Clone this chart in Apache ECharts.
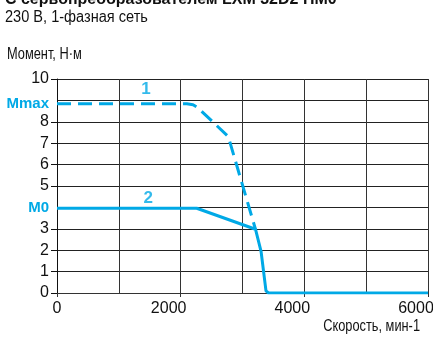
<!DOCTYPE html>
<html>
<head>
<meta charset="utf-8">
<script src="https://cdn.jsdelivr.net/npm/echarts@6/dist/echarts.min.js"></script>
<style>
html,body{margin:0;padding:0;background:#fff;}
#c{width:433px;height:338px;}
</style>
</head>
<body>
<div id="c"></div>
<script>
// ---- data ----
const titleText = 'С сервопреобразователем LXM 32D2 HM0';
const subtitleText = '230 В, 1-фазная сеть';
const yAxisTitle = 'Момент, Н·м';
const xAxisTitle = 'Скорость, мин-1';

const Mmax = 8.84;
const M0 = 3.96;

// curve 1 (peak torque, dashed)
const curve1Speed  = [0, 2100, 2200, 2270, 2770, 3210];
const curve1Torque = [Mmax, Mmax, 8.8, 8.68, 7.31, 2.98];

// curve 2 (continuous torque, solid)
const curve2Speed  = [0, 2260, 3210, 3300, 3380, 3420, 6000];
const curve2Torque = [M0, M0, 2.98, 1.95, 0.1, 0, 0];

const curveNames = ['1', '2'];
const curveLabelSpeed = [1440, 1475];
const curveLabelTorque = [9.5, 4.42];

const xMin = 0, xMax = 6000, xLabelStep = 2000, xGridStep = 1000;
const yMin = 0, yMax = 10, yGridStep = 1;
const yTickValues = [0, 1, 2, 3, 5, 6, 7, 8, 10];
const yLabelValues = [0, 1, 2, 3, M0, 5, 6, 7, 8, Mmax, 10];

// ---- chart ----
const CYAN = '#00A9E6';
const regular = "'Liberation Sans',Arial,sans-serif";

const zip = (a, b) => a.map((v, i) => [v, b[i]]);

const chart = echarts.init(document.getElementById('c'), null, {renderer: 'canvas'});
chart.setOption({
  animation: false,
  backgroundColor: '#fff',
  grid: {left: 57, right: 5, top: 79, bottom: 45, containLabel: false, outerBoundsMode: 'none'},
  xAxis: [{
    type: 'value', min: xMin, max: xMax, interval: xLabelStep,
    axisLine: {show: true, lineStyle: {color: '#333', width: 1}},
    axisTick: {show: true, length: 4, lineStyle: {color: '#333'}},
    axisLabel: {
      margin: 8, color: '#111', fontFamily: regular, fontSize: 16,
      formatter: v => v === 0 ? '{z|0}' : '{n|' + v + '}',
      rich: {z: {fontFamily: regular, fontSize: 16, color: '#111'},
             n: {fontFamily: regular, fontSize: 16, color: '#111', padding: [0, 24, 0, 0]}}
    },
    splitLine: {show: false}
  }, {
    type: 'value', min: xMin, max: xMax, interval: xGridStep,
    axisLine: {show: false}, axisTick: {show: false}, axisLabel: {show: false},
    splitLine: {show: true, lineStyle: {color: '#333', width: 1}}
  }],
  yAxis: [{
    type: 'value', min: yMin, max: yMax,
    axisLine: {show: true, lineStyle: {color: '#111', width: 1}},
    axisTick: {show: true, length: 6, customValues: yTickValues, lineStyle: {color: '#111'}},
    axisLabel: {
      margin: 8, color: '#111', fontFamily: regular, fontSize: 16,
      customValues: yLabelValues,
      formatter: v => v === Mmax ? '{b|Mmax}' : (v === M0 ? '{b|M0}' : '{n|' + v + '}'),
      rich: {
        n: {fontFamily: regular, fontSize: 16, color: '#111'},
        b: {fontFamily: regular, fontSize: 15, fontWeight: 'bold', color: CYAN}
      }
    },
    splitLine: {show: false}
  }, {
    type: 'value', min: yMin, max: yMax, interval: yGridStep,
    axisLine: {show: false}, axisTick: {show: false}, axisLabel: {show: false},
    splitLine: {show: true, lineStyle: {color: '#222', width: 1}}
  }],
  graphic: [
    {type: 'text', x: 5, y: -9, scaleX: 0.94, originX: 0, originY: 0,
     style: {text: titleText, font: "bold 17px " + regular, fill: '#111', align: 'left', verticalAlign: 'top'}},
    {type: 'text', x: 5, y: 10, scaleX: 0.91, originX: 0, originY: 0,
     style: {text: subtitleText, font: "16px " + regular, fill: '#111', align: 'left', verticalAlign: 'top'}},
    {type: 'text', x: 7, y: 47, scaleX: 0.8, originX: 0, originY: 0,
     style: {text: yAxisTitle, font: "16px " + regular, fill: '#111', align: 'left', verticalAlign: 'top'}},
    {type: 'text', x: 420, y: 319, scaleX: 0.8, originX: 0, originY: 0,
     style: {text: xAxisTitle, font: "16px " + regular, fill: '#111', align: 'right', verticalAlign: 'top'}}
  ],
  series: [{
    name: curveNames[0], type: 'line', xAxisIndex: 0, yAxisIndex: 0,
    data: zip(curve1Speed, curve1Torque), symbol: 'none', smooth: false,
    lineStyle: {color: CYAN, width: 3, type: [14, 7], join: 'round', cap: 'butt'}
  }, {
    name: curveNames[1], type: 'line', xAxisIndex: 0, yAxisIndex: 0,
    data: zip(curve2Speed, curve2Torque), symbol: 'none', smooth: false,
    lineStyle: {color: CYAN, width: 3, type: 'solid', join: 'round'}
  }, {
    type: 'scatter', xAxisIndex: 0, yAxisIndex: 0, symbolSize: 0,
    data: curveNames.map((n, i) => ({value: [curveLabelSpeed[i], curveLabelTorque[i]], name: n})),
    label: {show: true, position: 'inside', formatter: p => p.name,
            color: CYAN, fontFamily: regular, fontWeight: 'bold', fontSize: 17},
    silent: true
  }]
});
</script>
</body>
</html>
